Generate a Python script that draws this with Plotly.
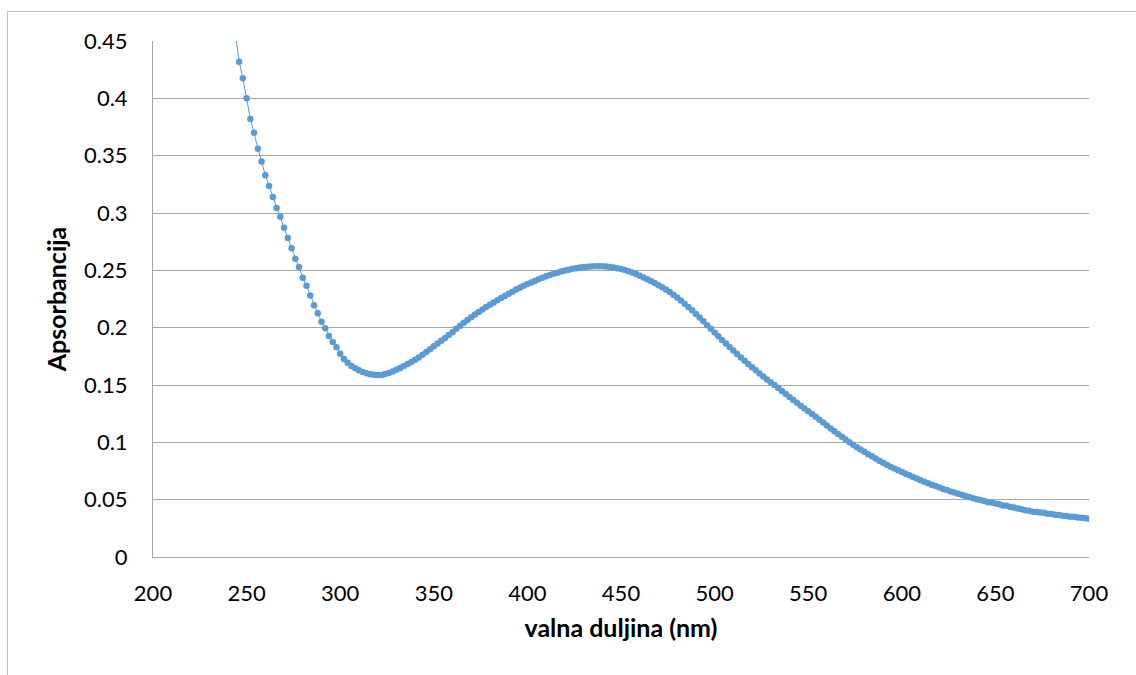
import plotly.graph_objects as go

# wavelength grid (nm), 2 nm step as in the instrument scan
wavelength = list(range(240, 701, 2))

absorbance = [
    # 240-298
    0.520, 0.486, 0.457, 0.432, 0.4175, 0.400, 0.382, 0.370, 0.356, 0.345,
    0.333, 0.3235, 0.314, 0.3044, 0.2968, 0.2872, 0.2782, 0.2692, 0.2601, 0.2529,
    0.2436, 0.2366, 0.2280, 0.2195, 0.2125, 0.2052, 0.1994, 0.1927, 0.1875, 0.1829,
    # 300-398
    0.1773, 0.1727, 0.1694, 0.1665, 0.1645, 0.1628, 0.1614, 0.1602, 0.1594, 0.1589,
    0.1587, 0.1588, 0.1595, 0.1604, 0.1617, 0.1632, 0.1648, 0.1665, 0.1683, 0.1701,
    0.1720, 0.1740, 0.1763, 0.1787, 0.1812, 0.1838, 0.1862, 0.1886, 0.1910, 0.1935,
    0.1961, 0.1990, 0.2017, 0.2043, 0.2067, 0.2091, 0.2114, 0.2136, 0.2158, 0.2180,
    0.2200, 0.2220, 0.2240, 0.2258, 0.2277, 0.2296, 0.2313, 0.2332, 0.2348, 0.2365,
    # 400-498
    0.2381, 0.2394, 0.2408, 0.2422, 0.2435, 0.2448, 0.2460, 0.2471, 0.2480, 0.2489,
    0.2498, 0.2506, 0.2513, 0.2519, 0.2525, 0.2529, 0.2532, 0.2534, 0.2536, 0.2536,
    0.2535, 0.2533, 0.2530, 0.2525, 0.2519, 0.2512, 0.2503, 0.2493, 0.2481, 0.2467,
    0.2452, 0.2438, 0.2423, 0.2408, 0.2390, 0.2371, 0.2353, 0.2332, 0.2310, 0.2286,
    0.2262, 0.2236, 0.2209, 0.2181, 0.2151, 0.2120, 0.2088, 0.2056, 0.2022, 0.1990,
    # 500-598
    0.1957, 0.1925, 0.1893, 0.1862, 0.1831, 0.1800, 0.1770, 0.1740, 0.1711, 0.1683,
    0.1655, 0.1628, 0.1601, 0.1575, 0.1549, 0.1524, 0.1499, 0.1473, 0.1447, 0.1421,
    0.1395, 0.1370, 0.1345, 0.1320, 0.1296, 0.1272, 0.1248, 0.1223, 0.1198, 0.1172,
    0.1147, 0.1121, 0.1097, 0.1072, 0.1048, 0.1024, 0.1001, 0.0979, 0.0957, 0.0937,
    0.0917, 0.0896, 0.0879, 0.0858, 0.0840, 0.0822, 0.0804, 0.0788, 0.0772, 0.0757,
    # 600-700
    0.0742, 0.0727, 0.0712, 0.0698, 0.0684, 0.0670, 0.0657, 0.0643, 0.0630, 0.0620,
    0.0606, 0.0594, 0.0585, 0.0572, 0.0562, 0.0552, 0.0542, 0.0532, 0.0524, 0.0512,
    0.0503, 0.0498, 0.0488, 0.0478, 0.0476, 0.0466, 0.0460, 0.0450, 0.0446, 0.0436,
    0.0431, 0.0422, 0.0416, 0.0407, 0.0403, 0.0395, 0.0392, 0.0387, 0.0385, 0.0378,
    0.0376, 0.0369, 0.0366, 0.0360, 0.0358, 0.0352, 0.0350, 0.0345, 0.0343, 0.0337,
    0.0333,
]

x_title = "valna duljina (nm)"
y_title = "Apsorbancija"
y_ticks = [0, 0.05, 0.1, 0.15, 0.2, 0.25, 0.3, 0.35, 0.4, 0.45]
x_ticks = [200, 250, 300, 350, 400, 450, 500, 550, 600, 650, 700]

BLUE = "#5B9BD5"
GRID = "#a6a6a6"
FONT = "Lato"
TICK_SIZE = 22
TITLE_SIZE = 25

fig = go.Figure()
fig.add_trace(go.Scatter(
    x=wavelength, y=absorbance, mode="lines+markers",
    line=dict(color=BLUE, width=1),
    marker=dict(color=BLUE, size=6.5, line=dict(width=0)),
    showlegend=False, hoverinfo="x+y",
))

# plot area in pixels: left 153, right 1089, top 41, bottom 557
L, R, T, B = 153, 1089, 41, 557
W, H = R - L, B - T

def px(xp):
    return (xp - L) / W

def py(yp):
    return (B - yp) / H

fig.update_layout(
    width=1136, height=675,
    margin=dict(l=L, r=1136 - R, t=T, b=675 - B, pad=0),
    paper_bgcolor="white", plot_bgcolor="white",
    font=dict(family=FONT, size=TICK_SIZE, color="#000000"),
    xaxis=dict(
        range=[200, 700], tickvals=x_ticks, showgrid=False, zeroline=False,
        showline=True, linecolor=GRID, linewidth=1, ticks="",
        ticklabelstandoff=17,
        tickfont=dict(family=FONT, size=TICK_SIZE, color="#000000"),
        title=dict(text="<b>" + x_title + "</b>", standoff=14,
                   font=dict(family=FONT, size=TITLE_SIZE, color="#000000")),
    ),
    yaxis=dict(
        range=[0, 0.45], tickvals=y_ticks, showgrid=True, gridcolor=GRID, gridwidth=1,
        zeroline=False, showline=True, linecolor=GRID, linewidth=1, ticks="",
        ticklabelstandoff=20,
        tickfont=dict(family=FONT, size=TICK_SIZE, color="#000000"),
        title=dict(text="<b>" + y_title + "</b>", standoff=10,
                   font=dict(family=FONT, size=TITLE_SIZE, color="#000000")),
    ),
    shapes=[dict(
        type="rect", xref="paper", yref="paper",
        x0=px(7.5), x1=px(1150), y0=py(690), y1=py(11.5),
        line=dict(color="#bfbfbf", width=1), fillcolor="rgba(0,0,0,0)", layer="below",
    )],
)

fig.write_html(
    "out.html",
    config={"displayModeBar": False},
    post_script="document.body.style.margin='0';document.body.style.padding='0';",
)
